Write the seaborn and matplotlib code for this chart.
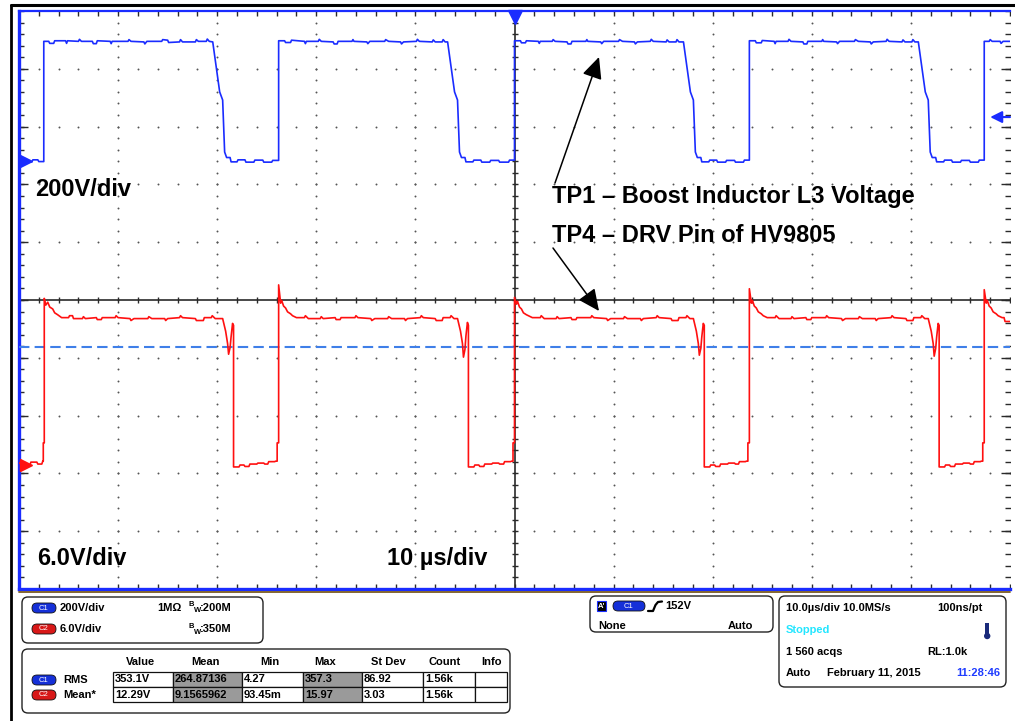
import numpy as np
import pandas as pd
import matplotlib.pyplot as plt
import seaborn as sns
from matplotlib.patches import FancyBboxPatch, Rectangle, Circle


# --- scope settings ---
blue_scale_v = 200.0      # C1 V/div
red_scale_v = 6.0         # C2 V/div
blue_offset_div = 2.405   # C1 ground marker position
red_offset_div = -2.855   # C2 ground marker position
c1_trigger_v = 152.0
c2_mean_v = 12.29

# --- C1 trace: TP1 boost inductor voltage (time us, volts) ---
blue_trace = [
    (-50.0, 3), (-49.3, 3), (-49.2, -3), (-48.7, -3), (-48.6, 4), (-48.1, 4), (-48.0, -2), (-47.5, -2),
    (-47.5, 414), (-47.0, 414), (-46.9, 407), (-46.5, 407), (-46.4, 416), (-45.3, 416), (-45.2, 407),
    (-45.1, 416), (-44.0, 414), (-43.9, 421), (-43.7, 414), (-42.6, 414), (-42.5, 406), (-42.2, 406),
    (-42.1, 416), (-40.8, 414), (-40.7, 406), (-40.6, 414), (-39.0, 414), (-38.9, 420), (-38.7, 414),
    (-37.4, 412), (-37.3, 405), (-37.1, 414), (-35.6, 414), (-35.5, 420), (-35.0, 418), (-34.9, 410),
    (-33.8, 412), (-33.7, 420), (-33.5, 412), (-32.2, 412), (-32.1, 420), (-31.9, 414), (-31.1, 414),
    (-31.0, 422), (-30.8, 414), (-30.45, 412),
    (-29.75, 239), (-29.45, 211), (-29.25, 31), (-29.05, 12),
    (-28.7, 12), (-28.6, -3), (-28.0, -3), (-27.9, 4), (-27.2, 4), (-27.1, -4), (-26.3, -4), (-26.2, 3),
    (-25.4, 3), (-25.3, -4), (-24.5, -4), (-24.4, 2), (-23.8, 2),
    (-23.8, 416), (-23.2, 416), (-23.1, 410), (-22.6, 410), (-22.5, 418), (-21.2, 414), (-21.1, 406),
    (-21.0, 414), (-19.8, 414), (-19.7, 421), (-19.5, 414), (-18.3, 412), (-18.2, 405), (-17.9, 405),
    (-17.8, 414), (-16.4, 414), (-16.3, 420), (-16.2, 414), (-14.9, 412), (-14.8, 406), (-14.6, 414),
    (-13.1, 414), (-13.0, 420), (-12.7, 414), (-11.5, 412), (-11.4, 405), (-11.2, 412), (-9.9, 414),
    (-9.8, 421), (-9.6, 414), (-8.3, 412), (-8.2, 419), (-8.0, 412), (-7.3, 412), (-7.2, 420),
    (-7.0, 412), (-6.75, 412),
    (-6.05, 239), (-5.75, 211), (-5.55, 31), (-5.35, 12),
    (-5.0, 12), (-4.9, -3), (-4.2, -3), (-4.1, 3), (-3.4, 3), (-3.3, -4), (-2.5, -4), (-2.4, 2),
    (-1.6, 2), (-1.5, -4), (-0.6, -4), (-0.5, 3), (0.0, 3),
    (0.0, 416), (0.6, 416), (0.7, 409), (1.1, 409), (1.2, 416), (2.4, 414), (2.5, 407), (2.6, 414),
    (3.8, 414), (3.9, 420), (4.1, 414), (5.3, 412), (5.4, 405), (5.7, 405), (5.8, 414), (7.2, 414),
    (7.3, 420), (7.4, 414), (8.7, 412), (8.8, 406), (9.0, 414), (10.5, 414), (10.6, 420), (10.9, 414),
    (12.1, 412), (12.2, 405), (12.4, 412), (13.7, 414), (13.8, 421), (14.0, 414), (15.3, 412),
    (15.4, 419), (15.6, 412), (16.3, 412), (16.4, 420), (16.6, 412), (17.05, 412),
    (17.75, 239), (18.05, 211), (18.25, 31), (18.45, 12),
    (18.8, 12), (18.9, -3), (19.6, -3), (19.7, 3), (20.4, 3), (20.5, -4), (21.3, -4), (21.4, 2),
    (22.2, 2), (22.3, -4), (23.1, -4), (23.2, 3), (23.7, 3),
    (23.7, 416), (24.3, 416), (24.4, 409), (24.9, 409), (25.0, 417), (26.2, 414), (26.3, 406),
    (26.4, 414), (27.6, 414), (27.7, 421), (27.9, 414), (29.1, 412), (29.2, 405), (29.5, 405),
    (29.6, 414), (31.0, 414), (31.1, 420), (31.2, 414), (32.5, 412), (32.6, 406), (32.8, 414),
    (34.3, 414), (34.4, 420), (34.7, 414), (35.9, 412), (36.0, 405), (36.2, 412), (37.5, 414),
    (37.6, 421), (37.8, 414), (39.1, 412), (39.2, 419), (39.4, 412), (40.1, 412), (40.2, 420),
    (40.4, 412), (40.75, 412),
    (41.45, 239), (41.75, 211), (41.95, 31), (42.15, 12),
    (42.5, 12), (42.6, -3), (43.3, -3), (43.4, 3), (44.1, 3), (44.2, -4), (45.0, -4), (45.1, 2),
    (45.9, 2), (46.0, -4), (46.8, -4), (46.9, 3), (47.4, 3),
    (47.4, 414), (47.9, 414), (48.0, 420), (48.2, 414), (49.0, 414), (49.1, 407), (49.3, 414), (50.0, 414),
]

# --- C2 trace: TP4 DRV pin of HV9805 (time us, volts) ---
red_trace = [
    (-50.0, 0.2), (-49.4, 0.2), (-49.3, 0.0), (-48.9, 0.0), (-48.8, 0.3), (-48.2, 0.3), (-48.1, 0.1),
    (-47.7, 0.1), (-47.6, 0.4), (-47.55, 0.4), (-47.55, 2.3), (-47.45, 2.3),
    (-47.45, 17.3), (-47.3, 16.6), (-47.1, 16.9), (-46.9, 16.4), (-46.6, 16.2), (-46.4, 15.8),
    (-46.1, 15.6), (-45.7, 15.3),
    (-45.0, 15.3), (-44.9, 15.5), (-44.6, 15.5), (-44.5, 15.2), (-43.6, 15.2), (-43.5, 15.4),
    (-43.3, 15.2), (-42.2, 15.3), (-42.1, 15.1), (-41.7, 15.1), (-41.6, 15.3), (-40.3, 15.3),
    (-40.2, 15.5), (-40.0, 15.3), (-38.8, 15.2), (-38.7, 15.0), (-38.4, 15.2), (-37.0, 15.2),
    (-36.9, 15.4), (-36.6, 15.2), (-35.3, 15.2), (-35.2, 15.0), (-35.0, 15.2), (-33.8, 15.3),
    (-33.7, 15.5), (-33.5, 15.3), (-32.2, 15.2), (-32.1, 15.0), (-31.4, 15.0), (-31.3, 15.3),
    (-30.6, 15.3), (-30.5, 15.5), (-30.2, 15.2), (-29.45, 15.2),
    (-29.15, 13.9), (-28.95, 12.6), (-28.85, 11.5), (-28.7, 12.2), (-28.6, 13.3), (-28.45, 14.7),
    (-28.35, 14.5), (-28.35, -0.2),
    (-27.8, -0.2), (-27.7, 0.0), (-27.3, 0.0), (-27.2, -0.15), (-26.8, -0.15), (-26.7, 0.1),
    (-26.0, 0.1), (-25.9, 0.2), (-25.3, 0.2), (-25.2, 0.1), (-24.9, 0.1), (-24.8, 0.35),
    (-24.2, 0.35), (-24.1, 0.4), (-23.95, 0.4), (-23.95, 2.3), (-23.8, 2.3),
    (-23.8, 18.7), (-23.6, 16.8), (-23.5, 17.1), (-23.3, 16.5), (-23.1, 16.3), (-22.9, 15.9),
    (-22.6, 15.7), (-22.4, 15.5), (-22.0, 15.3),
    (-21.2, 15.3), (-21.1, 15.5), (-20.8, 15.2), (-19.6, 15.2), (-19.5, 15.4), (-19.3, 15.2),
    (-18.1, 15.3), (-18.0, 15.1), (-17.6, 15.1), (-17.5, 15.3), (-16.1, 15.3), (-16.0, 15.5),
    (-15.8, 15.3), (-14.5, 15.2), (-14.4, 15.0), (-14.1, 15.2), (-12.8, 15.2), (-12.7, 15.4),
    (-12.4, 15.2), (-11.1, 15.2), (-11.0, 15.0), (-10.8, 15.2), (-9.5, 15.3), (-9.4, 15.5),
    (-9.2, 15.3), (-8.0, 15.2), (-7.9, 15.0), (-7.3, 15.0), (-7.2, 15.3), (-6.5, 15.3),
    (-6.4, 15.5), (-6.1, 15.2), (-5.75, 15.2),
    (-5.45, 13.9), (-5.25, 12.6), (-5.15, 11.2), (-5.0, 12.0), (-4.9, 13.4), (-4.75, 14.8),
    (-4.65, 14.5), (-4.65, -0.2),
    (-4.1, -0.2), (-4.0, 0.0), (-3.6, 0.0), (-3.5, -0.15), (-3.1, -0.15), (-3.0, 0.1), (-2.3, 0.1),
    (-2.2, 0.2), (-1.6, 0.2), (-1.5, 0.1), (-1.1, 0.1), (-1.0, 0.35), (-0.4, 0.35), (-0.3, 0.4),
    (-0.15, 0.4), (-0.15, 2.3), (0.0, 2.3),
    (0.0, 17.4), (0.2, 16.7), (0.3, 17.0), (0.5, 16.4), (0.7, 16.2), (0.9, 15.8), (1.2, 15.6),
    (1.4, 15.5), (1.8, 15.3),
    (2.6, 15.3), (2.7, 15.5), (3.0, 15.2), (4.2, 15.2), (4.3, 15.4), (4.5, 15.2), (5.7, 15.3),
    (5.8, 15.1), (6.2, 15.1), (6.3, 15.3), (7.7, 15.3), (7.8, 15.5), (8.0, 15.3), (9.3, 15.2),
    (9.4, 15.0), (9.7, 15.2), (11.0, 15.2), (11.1, 15.4), (11.4, 15.2), (12.7, 15.2), (12.8, 15.0),
    (13.0, 15.2), (14.3, 15.3), (14.4, 15.5), (14.6, 15.3), (15.8, 15.2), (15.9, 15.0), (16.5, 15.0),
    (16.6, 15.3), (17.3, 15.3), (17.4, 15.5), (17.7, 15.2), (18.05, 15.2),
    (18.35, 13.9), (18.55, 12.6), (18.65, 11.4), (18.8, 12.1), (18.9, 13.3), (19.05, 14.7),
    (19.15, 14.5), (19.15, -0.2),
    (19.7, -0.2), (19.8, 0.0), (20.2, 0.0), (20.3, -0.15), (20.7, -0.15), (20.8, 0.1), (21.5, 0.1),
    (21.6, 0.2), (22.2, 0.2), (22.3, 0.1), (22.6, 0.1), (22.7, 0.35), (23.3, 0.35), (23.4, 0.4),
    (23.55, 0.4), (23.55, 2.3), (23.7, 2.3),
    (23.7, 18.3), (23.9, 16.8), (24.0, 17.1), (24.2, 16.5), (24.4, 16.3), (24.6, 15.9), (24.9, 15.7),
    (25.1, 15.5), (25.5, 15.3),
    (26.3, 15.3), (26.4, 15.5), (26.7, 15.2), (27.9, 15.2), (28.0, 15.4), (28.2, 15.2), (29.4, 15.3),
    (29.5, 15.1), (29.9, 15.1), (30.0, 15.3), (31.4, 15.3), (31.5, 15.5), (31.7, 15.3), (33.0, 15.2),
    (33.1, 15.0), (33.4, 15.2), (34.7, 15.2), (34.8, 15.4), (35.1, 15.2), (36.4, 15.2), (36.5, 15.0),
    (36.7, 15.2), (38.0, 15.3), (38.1, 15.5), (38.3, 15.3), (39.5, 15.2), (39.6, 15.0), (40.2, 15.0),
    (40.3, 15.3), (41.0, 15.3), (41.1, 15.5), (41.4, 15.2), (41.75, 15.2),
    (42.05, 13.9), (42.25, 12.6), (42.35, 11.3), (42.5, 12.1), (42.6, 13.3), (42.75, 14.7),
    (42.85, 14.5), (42.85, -0.2),
    (43.4, -0.2), (43.5, 0.0), (43.9, 0.0), (44.0, -0.15), (44.4, -0.15), (44.5, 0.1), (45.2, 0.1),
    (45.3, 0.2), (45.9, 0.2), (46.0, 0.1), (46.3, 0.1), (46.4, 0.35), (47.0, 0.35), (47.1, 0.4),
    (47.25, 0.4), (47.25, 2.3), (47.4, 2.3),
    (47.4, 18.2), (47.6, 16.8), (47.7, 17.1), (47.9, 16.5), (48.1, 16.3), (48.3, 15.9), (48.6, 15.7),
    (48.8, 15.5), (49.2, 15.3), (49.4, 15.3), (49.5, 14.9), (50.0, 14.9),
]

# --- measurement readout ---
meas_cols = ["Value", "Mean", "Min", "Max", "St Dev", "Count", "Info"]
meas_c1 = ["353.1V", "264.87136", "4.27", "357.3", "86.92", "1.56k", ""]
meas_c2 = ["12.29V", "9.1565962", "93.45m", "15.97", "3.03", "1.56k", ""]

BLUE = "#1a2cff"
RED = "#ff1010"
GRID = "#555555"

sns.set_style("white")
plt.rcParams['font.family'] = ['Liberation Sans', 'DejaVu Sans']

fig = plt.figure(figsize=(10.15, 7.21), dpi=100)
ax = fig.add_axes([19 / 1015, 132 / 721, 991 / 1015, 578 / 721])

df_blue = pd.DataFrame(blue_trace, columns=['t', 'v'])
df_blue['div'] = blue_offset_div + df_blue['v'] / blue_scale_v
df_red = pd.DataFrame(red_trace, columns=['t', 'v'])
df_red['div'] = red_offset_div + df_red['v'] / red_scale_v

sns.lineplot(data=df_blue, x='t', y='div', sort=False, estimator=None,
             color=BLUE, lw=1.2, ax=ax, zorder=5)
sns.lineplot(data=df_red, x='t', y='div', sort=False, estimator=None,
             color=RED, lw=1.2, ax=ax, zorder=5)

ax.set_xlim(-50, 50)
ax.set_ylim(-5, 5)
ax.set_xticks([])
ax.set_yticks([])
ax.set_xlabel('')
ax.set_ylabel('')

# graticule: dotted majors, solid centre cross, edge ticks
minor_x = np.arange(-50, 50.01, 2)
minor_y = np.arange(-5, 5.01, 0.2)
for gx in range(-40, 41, 10):
    if gx != 0:
        ax.plot(np.full_like(minor_y, gx), minor_y, ls='none', marker='o', ms=1.4, mew=0, color=GRID, zorder=1)
for gy in range(-4, 5):
    if gy != 0:
        ax.plot(minor_x, np.full_like(minor_x, gy), ls='none', marker='o', ms=1.4, mew=0, color=GRID, zorder=1)

ax.axhline(0, color='#2a2a2a', lw=1.2, zorder=2)
ax.axvline(0, color='#2a2a2a', lw=1.2, zorder=2)
ax.plot(minor_x, np.zeros_like(minor_x), ls='none', marker='|', ms=5, mew=1, color='#2a2a2a', zorder=2)
ax.plot(np.zeros_like(minor_y), minor_y, ls='none', marker='_', ms=5, mew=1, color='#2a2a2a', zorder=2)
for ey in (5, -5):
    ax.plot(minor_x, np.full_like(minor_x, ey), ls='none', marker='|', ms=7, mew=1, color='#2a2a2a', zorder=2)
for ex in (-50, 50):
    ax.plot(np.full_like(minor_y, ex), minor_y, ls='none', marker='_', ms=7, mew=1, color='#2a2a2a', zorder=2)
    ax.plot(np.full(9, ex), np.arange(-4, 5), ls='none', marker='_', ms=13, mew=1, color='#2a2a2a', zorder=2)

# C2 mean level (dashed)
ax.axhline(red_offset_div + c2_mean_v / red_scale_v, color='#3f7fe8', lw=1.5, ls=(0, (5, 2.5)), zorder=3)

# channel / trigger markers
ax.plot([-49.3], [blue_offset_div], marker='>', ms=9, color=BLUE, zorder=6)
ax.plot([-49.3], [red_offset_div], marker='>', ms=9, color=RED, zorder=6)
ax.plot([0], [4.9], marker='v', ms=10, color=BLUE, zorder=6, clip_on=False)
trig_div = blue_offset_div + c1_trigger_v / blue_scale_v
ax.annotate('', xy=(48.0, trig_div), xytext=(50, trig_div),
            arrowprops=dict(arrowstyle='-|>,head_length=0.5,head_width=0.25', color=BLUE, lw=1.5,
                            mutation_scale=14, shrinkA=0, shrinkB=0))

for side in ('left', 'bottom', 'top'):
    ax.spines[side].set_color(BLUE)
ax.spines['left'].set_linewidth(2.4)
ax.spines['bottom'].set_linewidth(2.4)
ax.spines['top'].set_linewidth(1.6)
ax.spines['right'].set_visible(False)

# overlay in pixel coordinates for labels and the readout panel
ov = fig.add_axes([0, 0, 1, 1], zorder=10)
ov.set_xlim(0, 1015)
ov.set_ylim(721, 0)
ov.axis('off')
ov.patch.set_visible(False)


def txt(x, y, s, **kw):
    kw.setdefault('fontsize', 8)
    kw.setdefault('fontweight', 'bold')
    kw.setdefault('va', 'center')
    kw.setdefault('color', 'black')
    ov.text(x, y, s, **kw)


def rbox(x0, y0, x1, y1, r=6):
    ov.add_patch(FancyBboxPatch((x0, y0), x1 - x0, y1 - y0, boxstyle=f"round,pad=0,rounding_size={r}",
                                fc='white', ec='#222222', lw=1.0))


def pill(x, y, label, fc, w=24, h=10):
    ov.add_patch(FancyBboxPatch((x, y - h / 2), w, h, boxstyle=f"round,pad=0,rounding_size={h / 2}",
                                fc=fc, ec='#111111', lw=0.6))
    ov.text(x + w / 2, y, label, color='white', fontsize=5.5, ha='center', va='center')


# frame lines of the screenshot
ov.plot([11, 1015], [5, 5], color='black', lw=2.2)
ov.plot([11, 11], [5, 721], color='black', lw=2.0)
ov.plot([19, 1010], [591.5, 591.5], color='#7a5a20', lw=1.3)

# annotations on the screen
txt(35, 196, '200V/div', fontsize=17, va='baseline')
txt(37, 565, '6.0V/div', fontsize=17, va='baseline')
txt(387, 565, '10 µs/div', fontsize=17, va='baseline')
txt(552, 203, 'TP1 – Boost Inductor L3 Voltage', fontsize=17, va='baseline')
txt(552, 242, 'TP4 – DRV Pin of HV9805', fontsize=17, va='baseline')
arrow_style = dict(arrowstyle='-|>,head_length=0.6,head_width=0.28', color='black', lw=1.1,
                   mutation_scale=22, shrinkA=0, shrinkB=0)
ov.annotate('', xy=(599, 57), xytext=(555, 183), arrowprops=arrow_style)
ov.annotate('', xy=(599, 311), xytext=(553, 248), arrowprops=arrow_style)

# channel box
rbox(22, 597, 263, 643)
pill(32, 608, 'C1', '#1530d8')
txt(60, 608, '200V/div')
txt(157, 608, '1MΩ')
pill(32, 629, 'C2', '#d81818')
txt(60, 629, '6.0V/div')
for yy, bw in ((608, ':200M'), (629, ':350M')):
    txt(189, yy - 3, 'B', fontsize=5.5)
    txt(193.5, yy + 3, 'W', fontsize=5.5)
    txt(200, yy, bw)

# measurement table
rbox(22, 649, 510, 713)
col_edges = [113, 173, 242, 303, 362, 423, 475, 507]
row_edges = [672, 687, 702]
head_x = [140, 206, 270, 325, 388, 445, 492]
for hx, name in zip(head_x, meas_cols):
    txt(hx, 662, name, ha='center')
for r, row in enumerate([meas_c1, meas_c2]):
    for c, val in enumerate(row):
        ov.add_patch(Rectangle((col_edges[c], row_edges[r]), col_edges[c + 1] - col_edges[c],
                               row_edges[r + 1] - row_edges[r],
                               fc='#9a9a9a' if c in (1, 3) else 'white', ec='#111111', lw=0.9))
        txt(col_edges[c] + 2, (row_edges[r] + row_edges[r + 1]) / 2, val)
pill(32, 680, 'C1', '#1530d8')
txt(63, 680, 'RMS')
pill(32, 695, 'C2', '#d81818')
txt(63, 695, 'Mean*')

# trigger box
rbox(590, 596, 773, 632)
ov.add_patch(Rectangle((597, 601), 9, 10, fc='black', ec=BLUE, lw=0.8))
txt(601.5, 606, "A'", color='white', fontsize=5.5, ha='center')
pill(613, 606, 'C1', '#1530d8', w=32)
ov.plot([648, 653, 655.5, 658, 662], [611, 611, 605, 602, 601.5], color='black', lw=1.6)
txt(665, 606, '152V')
txt(598, 626, 'None')
txt(753, 626, 'Auto', ha='right')

# acquisition box
rbox(779, 596, 1006, 687)
txt(786, 608, '10.0µs/div 10.0MS/s')
txt(983, 608, '100ns/pt', ha='right')
txt(786, 630, 'Stopped', color='#22e6ff')
ov.add_patch(Rectangle((985.5, 623), 3.4, 11, fc='#1a2a7a', ec='none'))
ov.add_patch(Circle((987.2, 636), 3.2, fc='#1a2a7a', ec='none'))
txt(786, 652, '1 560 acqs')
txt(968, 652, 'RL:1.0k', ha='right')
txt(786, 673, 'Auto')
txt(827, 673, 'February 11, 2015')
txt(1000, 673, '11:28:46', ha='right', color='#1f3cff')

fig.savefig('out.png', dpi=100)
